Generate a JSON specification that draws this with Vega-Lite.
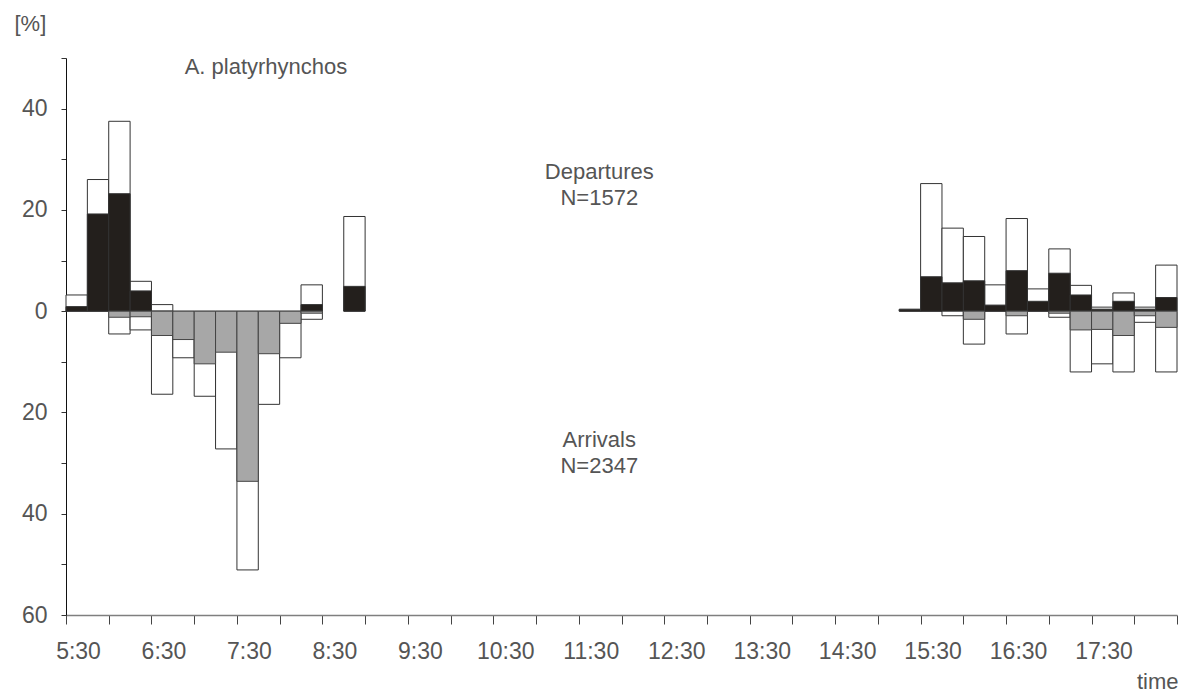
{
  "$schema": "https://vega.github.io/schema/vega-lite/v6.json",
  "width": 1111,
  "height": 557,
  "autosize": "none",
  "padding": {"left": 66, "top": 58, "right": 8, "bottom": 78},
  "background": "white",
  "config": {
    "view": {"stroke": null},
    "font": "Liberation Sans, Arial, sans-serif"
  },
  "datasets": {
    "bins": [
      {"start": 5.5, "end": 5.75, "dep": 3.2, "depb": 0.9, "arr": null, "arrg": null},
      {"start": 5.75, "end": 6.0, "dep": 26.0, "depb": 19.2, "arr": null, "arrg": null},
      {"start": 6.0, "end": 6.25, "dep": 37.5, "depb": 23.2, "arr": -4.5, "arrg": -1.2},
      {"start": 6.25, "end": 6.5, "dep": 5.9, "depb": 4.0, "arr": -3.7, "arrg": -1.1},
      {"start": 6.5, "end": 6.75, "dep": 1.3, "depb": null, "arr": -16.4, "arrg": -4.8},
      {"start": 6.75, "end": 7.0, "dep": null, "depb": null, "arr": -9.2, "arrg": -5.6},
      {"start": 7.0, "end": 7.25, "dep": null, "depb": null, "arr": -16.8, "arrg": -10.4},
      {"start": 7.25, "end": 7.5, "dep": null, "depb": null, "arr": -27.2, "arrg": -8.1},
      {"start": 7.5, "end": 7.75, "dep": null, "depb": null, "arr": -51.1, "arrg": -33.6},
      {"start": 7.75, "end": 8.0, "dep": null, "depb": null, "arr": -18.4, "arrg": -8.4},
      {"start": 8.0, "end": 8.25, "dep": null, "depb": null, "arr": -9.2, "arrg": -2.4},
      {"start": 8.25, "end": 8.5, "dep": 5.2, "depb": 1.3, "arr": -1.6, "arrg": -0.4},
      {"start": 8.75, "end": 9.0, "dep": 18.7, "depb": 4.9, "arr": null, "arrg": null},
      {"start": 15.25, "end": 15.5, "dep": 0.4, "depb": 0.3, "arr": null, "arrg": null},
      {"start": 15.5, "end": 15.75, "dep": 25.2, "depb": 6.8, "arr": null, "arrg": null},
      {"start": 15.75, "end": 16.0, "dep": 16.4, "depb": 5.6, "arr": -0.9, "arrg": null},
      {"start": 16.0, "end": 16.25, "dep": 14.75, "depb": 6.0, "arr": -6.5, "arrg": -1.6},
      {"start": 16.25, "end": 16.5, "dep": 5.2, "depb": 1.2, "arr": null, "arrg": null},
      {"start": 16.5, "end": 16.75, "dep": 18.3, "depb": 8.0, "arr": -4.5, "arrg": -0.9},
      {"start": 16.75, "end": 17.0, "dep": 4.4, "depb": 1.95, "arr": null, "arrg": null},
      {"start": 17.0, "end": 17.25, "dep": 12.3, "depb": 7.5, "arr": -1.2, "arrg": -0.4},
      {"start": 17.25, "end": 17.5, "dep": 5.1, "depb": 3.2, "arr": -12.0, "arrg": -3.7},
      {"start": 17.5, "end": 17.75, "dep": 0.8, "depb": 0.4, "arr": -10.4, "arrg": -3.6},
      {"start": 17.75, "end": 18.0, "dep": 3.6, "depb": 1.95, "arr": -12.0, "arrg": -4.8},
      {"start": 18.0, "end": 18.25, "dep": 0.8, "depb": 0.4, "arr": -2.2, "arrg": -0.9},
      {"start": 18.25, "end": 18.5, "dep": 9.1, "depb": 2.7, "arr": -12.0, "arrg": -3.2}
    ],
    "notes": [
      {"t": 7.84, "v": 48.2, "label": "A. platyrhynchos"},
      {"t": 11.74, "v": 27.4, "label": "Departures"},
      {"t": 11.74, "v": 22.4, "label": "N=1572"},
      {"t": 11.74, "v": -25.5, "label": "Arrivals"},
      {"t": 11.74, "v": -30.6, "label": "N=2347"}
    ]
  },
  "layer": [
    {
      "data": {"name": "bins"},
      "mark": {"type": "rect", "fill": "white", "stroke": "#333333", "strokeWidth": 1},
      "encoding": {
        "x": {
          "field": "start", "type": "quantitative",
          "scale": {"domain": [5.5, 18.5], "nice": false, "zero": false},
          "axis": {
            "values": [5.5,5.75,6,6.25,6.5,6.75,7,7.25,7.5,7.75,8,8.25,8.5,8.75,9,9.25,9.5,9.75,10,10.25,10.5,10.75,11,11.25,11.5,11.75,12,12.25,12.5,12.75,13,13.25,13.5,13.75,14,14.25,14.5,14.75,15,15.25,15.5,15.75,16,16.25,16.5,16.75,17,17.25,17.5,17.75,18,18.25,18.5],
            "labelExpr": "(datum.value % 1 == 0.5 && datum.value < 18) ? floor(datum.value) + ':30' : ''",
            "grid": false,
            "domainColor": "#7f7f7f",
            "domainWidth": 1.5,
            "tickColor": "#444444",
            "tickSize": 9,
            "tickWidth": 1,
            "labelFontSize": 23,
            "labelColor": "#555555",
            "labelOffset": 12,
            "labelPadding": 16,
            "labelFlush": false,
            "labelOverlap": false,
            "title": "time",
            "titleFontSize": 22,
            "titleFontWeight": "normal",
            "titleColor": "#555555",
            "titleAlign": "right",
            "titleBaseline": "middle",
            "titleX": 1112,
            "titleY": 66
          }
        },
        "x2": {"field": "end"},
        "y": {
          "field": "dep", "type": "quantitative",
          "scale": {"domain": [-60, 50], "nice": false},
          "axis": {
            "values": [-60,-50,-40,-30,-20,-10,0,10,20,30,40,50],
            "labelExpr": "datum.value % 20 == 0 ? abs(datum.value) : ''",
            "grid": false,
            "domainColor": "#111111",
            "domainWidth": 1,
            "tickColor": "#333333",
            "tickSize": 5,
            "labelFontSize": 23,
            "labelColor": "#555555",
            "labelPadding": 14,
            "title": "[%]",
            "titleAngle": 0,
            "titleFontSize": 22,
            "titleFontWeight": "normal",
            "titleColor": "#555555",
            "titleAlign": "left",
            "titleBaseline": "middle",
            "titleX": -52,
            "titleY": -35
          }
        },
        "y2": {"datum": 0}
      }
    },
    {
      "data": {"name": "bins"},
      "mark": {"type": "rect", "fill": "#231f1c", "stroke": "#333333", "strokeWidth": 1},
      "encoding": {
        "x": {"field": "start", "type": "quantitative"},
        "x2": {"field": "end"},
        "y": {"field": "depb", "type": "quantitative"},
        "y2": {"datum": 0}
      }
    },
    {
      "data": {"name": "bins"},
      "mark": {"type": "rect", "fill": "white", "stroke": "#333333", "strokeWidth": 1},
      "encoding": {
        "x": {"field": "start", "type": "quantitative"},
        "x2": {"field": "end"},
        "y": {"field": "arr", "type": "quantitative"},
        "y2": {"datum": 0}
      }
    },
    {
      "data": {"name": "bins"},
      "mark": {"type": "rect", "fill": "#a7a7a7", "stroke": "#444444", "strokeWidth": 1},
      "encoding": {
        "x": {"field": "start", "type": "quantitative"},
        "x2": {"field": "end"},
        "y": {"field": "arrg", "type": "quantitative"},
        "y2": {"datum": 0}
      }
    },
    {
      "mark": {"type": "rule", "color": "#8a8a8a", "strokeWidth": 2},
      "encoding": {"y": {"datum": 0}}
    },
    {
      "data": {"name": "notes"},
      "mark": {"type": "text", "fontSize": 22, "color": "#555555", "baseline": "middle", "align": "center"},
      "encoding": {
        "x": {"field": "t", "type": "quantitative"},
        "y": {"field": "v", "type": "quantitative"},
        "text": {"field": "label"}
      }
    }
  ]
}
